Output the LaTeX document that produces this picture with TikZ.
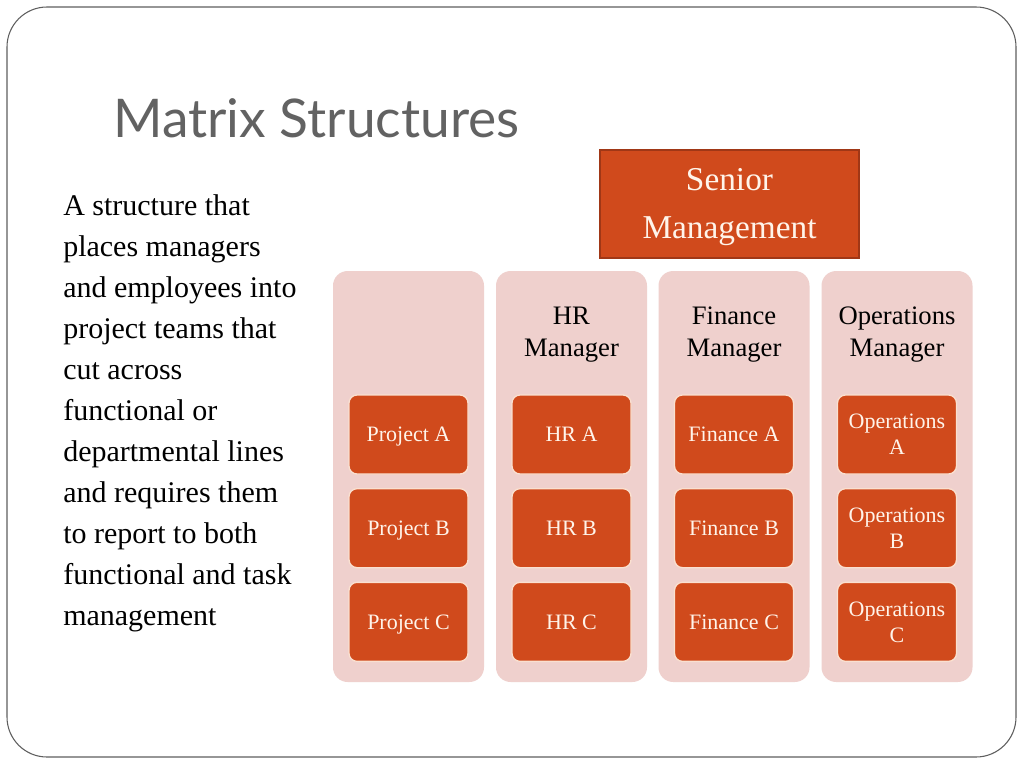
\documentclass[tikz,border=0pt]{standalone}
\usepackage{fontspec}
\setmainfont{Liberation Serif}
\newfontfamily\titlefont{Lato}
\usepackage{tikz}
\usetikzlibrary{positioning}
\definecolor{SlideRed}{RGB}{208,74,28}
\definecolor{SlideEdge}{RGB}{160,55,22}
\definecolor{ColPink}{RGB}{239,208,205}
\definecolor{BoxEdge}{RGB}{250,224,208}
\definecolor{BoxText}{RGB}{255,244,234}
\definecolor{TitleGray}{RGB}{98,98,98}
\definecolor{FrameGray}{RGB}{95,95,95}

\tikzset{
  deptcol/.style={
    rounded corners=11pt,
    fill=ColPink,
    minimum width=113.25pt,
    minimum height=308.25pt,
    inner sep=0pt
  },
  headtext/.style={
    align=center,
    inner sep=0pt,
    font=\fontsize{20}{24}\selectfont
  },
  unitbox/.style={
    rounded corners=6pt,
    fill=SlideRed,
    draw=BoxEdge,
    line width=1pt,
    text=BoxText,
    minimum width=89.25pt,
    minimum height=59.25pt,
    align=center,
    inner sep=2pt,
    font=\fontsize{16.5}{19.5}\selectfont
  },
  unitone/.style={
    unitbox,
    text height=11pt,
    text depth=0pt
  }
}

\begin{document}
\begin{tikzpicture}[x=0.75pt,y=-0.75pt]
  \useasboundingbox (0,0) rectangle (1024,768);
  \fill[white] (0,0) rectangle (1024,768);
  \draw[FrameGray, line width=0.8pt, rounded corners=30pt] (7,7) rectangle (1016,757);

  % title and text
  \node[
    anchor=base west,
    inner sep=0pt,
    text=TitleGray,
    font=\titlefont\fontsize{40}{48}\selectfont
  ] (title) at (113,137) {Matrix Structures};
  \node[
    anchor=north west,
    align=left,
    inner sep=0pt,
    font=\fontsize{22.5}{30.75}\selectfont
  ] (desc) at (63,194) {A structure that\\places managers\\and employees into\\project teams that\\cut across\\functional or\\departmental lines\\and requires them\\to report to both\\functional and task\\management};

  % senior management
  \node[
    draw=SlideEdge,
    fill=SlideRed,
    line width=0.8pt,
    text=BoxText,
    minimum width=194.25pt,
    minimum height=81pt,
    align=center,
    font=\fontsize{25}{36}\selectfont
  ] (senior) at (729.5,204) {\rule{0pt}{21pt}Senior\\Management};

  % columns
  \node[deptcol] (projcol) at (408.5,476.5) {};
  \node[deptcol] (hrcol) at (571.5,476.5) {};
  \node[deptcol] (fincol) at (734,476.5) {};
  \node[deptcol] (opscol) at (897,476.5) {};

  \node[headtext] (hrhead) at (571.5,335) {HR\\Manager};
  \node[headtext] (finhead) at (734,335) {Finance\\Manager};
  \node[headtext] (opshead) at (897,335) {Operations\\Manager};

  % units
  \node[unitone] (proja) at (408.5,434.5) {Project A};
  \node[unitone, below=10pt of proja] (projb) {Project B};
  \node[unitone, below=10pt of projb] (projc) {Project C};

  \node[unitone] (hra) at (571.5,434.5) {HR A};
  \node[unitone, below=10pt of hra] (hrb) {HR B};
  \node[unitone, below=10pt of hrb] (hrc) {HR C};

  \node[unitone] (fina) at (734,434.5) {Finance A};
  \node[unitone, below=10pt of fina] (finb) {Finance B};
  \node[unitone, below=10pt of finb] (finc) {Finance C};

  \node[unitbox] (opsa) at (897,434.5) {Operations\\A};
  \node[unitbox, below=10pt of opsa] (opsb) {Operations\\B};
  \node[unitbox, below=10pt of opsb] (opsc) {Operations\\C};
\end{tikzpicture}
\end{document}
